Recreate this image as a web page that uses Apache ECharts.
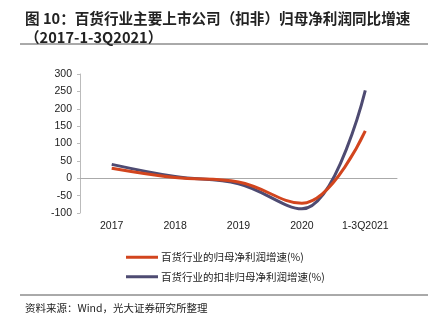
<!DOCTYPE html>
<html><head><meta charset="utf-8">
<script src="https://cdn.jsdelivr.net/npm/echarts@6/dist/echarts.min.js"></script>
<style>html,body{margin:0;padding:0;background:#fff}#c{width:438px;height:328px}</style>
</head><body><div id="c"></div>
<script>
const categories = ['2017', '2018', '2019', '2020', '1-3Q2021'];
const netProfitGrowth = [29, 2, -11, -72, 136];
const deductedNetProfitGrowth = [40, 5, -16, -88, 253];
const seriesNames = ['百货行业的归母净利润增速(%)', '百货行业的扣非归母净利润增速(%)'];
const yTicks = { min: -100, max: 300, interval: 50 };
const titleLines = ['图 10：百货行业主要上市公司（扣非）归母净利润同比增速', '（2017-1-3Q2021）'];
const sourceText = '资料来源：Wind，光大证券研究所整理';

const cjk = '"Noto Sans CJK SC", "Liberation Sans", sans-serif';
const lat = '"Liberation Sans", Arial, sans-serif';
const chart = echarts.init(document.getElementById('c'));
chart.setOption({
  animation: false,
  backgroundColor: '#fff',
  title: [
    { text: titleLines[0] + '\n' + titleLines[1], left: 20, top: 4,
      textStyle: { fontFamily: cjk, fontSize: 14.6, fontWeight: 'bold', color: '#222', lineHeight: 19 } },
    { text: sourceText, left: 20, top: 298,
      textStyle: { fontFamily: cjk, fontSize: 10.5, fontWeight: 'normal', color: '#222' } }
  ],
  graphic: [
    { type: 'line', shape: { x1: 20, y1: 44, x2: 428, y2: 44 }, style: { stroke: '#555', lineWidth: 1 } },
    { type: 'line', shape: { x1: 20, y1: 295, x2: 428, y2: 295 }, style: { stroke: '#555', lineWidth: 1 } }
  ],
  legend: {
    orient: 'vertical', left: 121, top: 247, itemGap: 9,
    itemWidth: 32, itemHeight: 10,
    icon: 'path://M0,0 L32,0 L32,3 L0,3 Z',
    textStyle: { fontFamily: cjk, fontSize: 10.5, color: '#222', padding: [0, 0, 0, -2] },
    data: seriesNames
  },
  grid: { left: 80, right: 41, top: 74, bottom: 115 },
  xAxis: [
    { type: 'category', data: categories, position: 'bottom',
      axisLine: { show: false, onZero: false }, axisTick: { show: false },
      axisLabel: { fontFamily: lat, fontSize: 10.5, color: '#222', margin: 8 } },
    { type: 'category', data: categories, position: 'bottom',
      axisLine: { onZero: true, lineStyle: { color: '#aaa', width: 1 } },
      axisTick: { inside: true, length: 3, lineStyle: { color: '#aaa' } },
      axisLabel: { show: false } }
  ],
  yAxis: {
    type: 'value', min: yTicks.min, max: yTicks.max, interval: yTicks.interval,
    axisLine: { show: true, lineStyle: { color: '#bbb' } },
    axisTick: { show: true, length: 3, lineStyle: { color: '#bbb' } },
    splitLine: { show: false },
    axisLabel: { fontFamily: lat, fontSize: 10.5, color: '#222', margin: 8 }
  },
  series: [
    { name: seriesNames[0], type: 'line', data: netProfitGrowth, smooth: 0.4, symbol: 'none',
      lineStyle: { color: '#d2451e', width: 3 }, itemStyle: { color: '#d2451e' }, z: 3 },
    { name: seriesNames[1], type: 'line', data: deductedNetProfitGrowth, smooth: 0.4, symbol: 'none',
      lineStyle: { color: '#4e4b72', width: 3 }, itemStyle: { color: '#4e4b72' }, z: 2 }
  ]
});
</script></body></html>
